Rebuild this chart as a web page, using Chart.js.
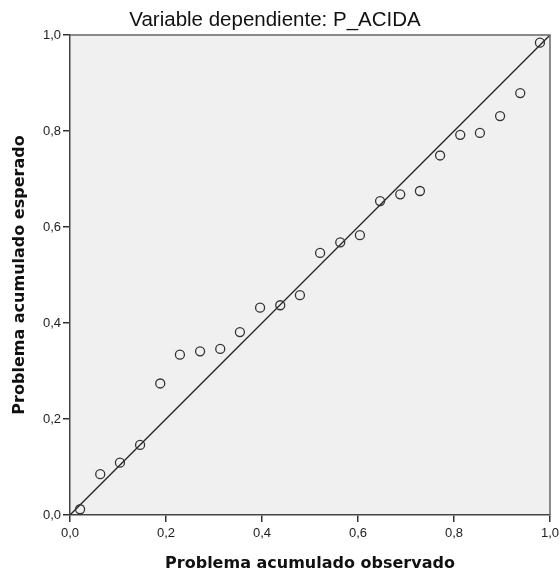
<!DOCTYPE html>
<html>
<head>
<meta charset="utf-8">
<script src="https://cdn.jsdelivr.net/npm/chart.js@4.4.1/dist/chart.umd.min.js"></script>
<style>
  html, body { margin: 0; padding: 0; background: #fff; }
  #wrap { width: 560px; height: 577px; }
</style>
</head>
<body>
<div id="wrap"><canvas id="myChart" width="560" height="577"></canvas></div>
<script>
'use strict';

// observed cumulative probability
var observed = [0.021, 0.063, 0.104, 0.146, 0.188, 0.229, 0.271, 0.313, 0.354, 0.396, 0.438, 0.479,
  0.521, 0.563, 0.604, 0.646, 0.688, 0.729, 0.771, 0.813, 0.854, 0.896, 0.938, 0.979];
// expected cumulative probability
var expected = [0.012, 0.085, 0.109, 0.146, 0.274, 0.334, 0.341, 0.346, 0.381, 0.432, 0.437, 0.458,
  0.546, 0.568, 0.583, 0.654, 0.668, 0.675, 0.749, 0.792, 0.796, 0.831, 0.879, 0.984];
// reference diagonal
var diagX = [0, 1];
var diagY = [0, 1];
var tickValues = [0, 0.2, 0.4, 0.6, 0.8, 1.0];

var points = [];
for (var i = 0; i < observed.length; i++) {
  points.push({ x: observed[i], y: expected[i] });
}
var diag = [];
for (var j = 0; j < diagX.length; j++) {
  diag.push({ x: diagX[j], y: diagY[j] });
}

var plotBox = {
  id: 'plotBox',
  beforeDraw: function (chart) {
    var a = chart.chartArea;
    var ctx = chart.ctx;
    ctx.save();
    ctx.fillStyle = '#f0f0f0';
    ctx.fillRect(a.left, a.top, a.right - a.left, a.bottom - a.top);
    ctx.restore();
  },
  afterDraw: function (chart) {
    var a = chart.chartArea;
    var ctx = chart.ctx;
    ctx.save();
    ctx.strokeStyle = '#666';
    ctx.lineWidth = 1.5;
    ctx.beginPath();
    ctx.moveTo(a.left, a.top);
    ctx.lineTo(a.right, a.top);
    ctx.lineTo(a.right, a.bottom);
    ctx.stroke();
    ctx.restore();
  }
};

function fmt(v) {
  return v.toFixed(1).replace('.', ',');
}

var tickFont = { family: 'Liberation Sans, Arial', size: 13 };
var axisTitleFont = { family: 'DejaVu Sans', size: 16, weight: 'bold' };

var ctx = document.getElementById('myChart').getContext('2d');
var chart = new Chart(ctx, {
  type: 'scatter',
  data: {
    datasets: [
      {
        label: 'Observado',
        data: points,
        pointRadius: 4.5,
        pointBorderWidth: 1.3,
        pointBorderColor: '#333',
        pointBackgroundColor: 'rgba(0,0,0,0)',
        showLine: false,
        order: 1
      },
      {
        label: 'Diagonal',
        data: diag,
        showLine: true,
        borderColor: '#222',
        borderWidth: 1.3,
        pointRadius: 0,
        fill: false,
        order: 2
      }
    ]
  },
  options: {
    responsive: false,
    animation: false,
    layout: { padding: { left: 0, right: 10, top: 0, bottom: 0 } },
    plugins: {
      legend: { display: false },
      tooltip: { enabled: false },
      title: {
        display: true,
        text: 'Variable dependiente: P_ACIDA',
        color: '#111',
        font: { family: 'Liberation Sans, Arial', size: 20.5, weight: 'normal' },
        padding: { top: 8, bottom: 2.4 }
      }
    },
    scales: {
      x: {
        type: 'linear',
        min: 0,
        max: 1,
        afterBuildTicks: function (scale) {
          scale.ticks = tickValues.map(function (v) { return { value: v }; });
        },
        afterFit: function (scale) {
          scale.height = 62;
          scale.paddingRight = 0;
          scale.paddingLeft = 0;
        },
        grid: { drawOnChartArea: false, drawTicks: true, tickLength: 7, color: '#333', lineWidth: 1.5 },
        border: { display: true, color: '#444', width: 1.5 },
        ticks: {
          color: '#222',
          padding: 4,
          maxRotation: 0,
          font: tickFont,
          callback: function (v) { return fmt(v); }
        },
        title: {
          display: true,
          text: 'Problema acumulado observado',
          color: '#111',
          font: axisTitleFont,
          padding: { top: 6, bottom: 4 }
        }
      },
      y: {
        type: 'linear',
        min: 0,
        max: 1,
        afterBuildTicks: function (scale) {
          scale.ticks = tickValues.map(function (v) { return { value: v }; });
        },
        afterFit: function (scale) { scale.width = 70; },
        grid: { drawOnChartArea: false, drawTicks: true, tickLength: 7, color: '#333', lineWidth: 1.5 },
        border: { display: true, color: '#444', width: 1.5 },
        ticks: {
          color: '#222',
          padding: 2,
          font: tickFont,
          callback: function (v) { return fmt(v); }
        },
        title: {
          display: true,
          text: 'Problema acumulado esperado',
          color: '#111',
          font: axisTitleFont,
          padding: { top: 10, bottom: 0 }
        }
      }
    }
  },
  plugins: [plotBox]
});
</script>
</body>
</html>
